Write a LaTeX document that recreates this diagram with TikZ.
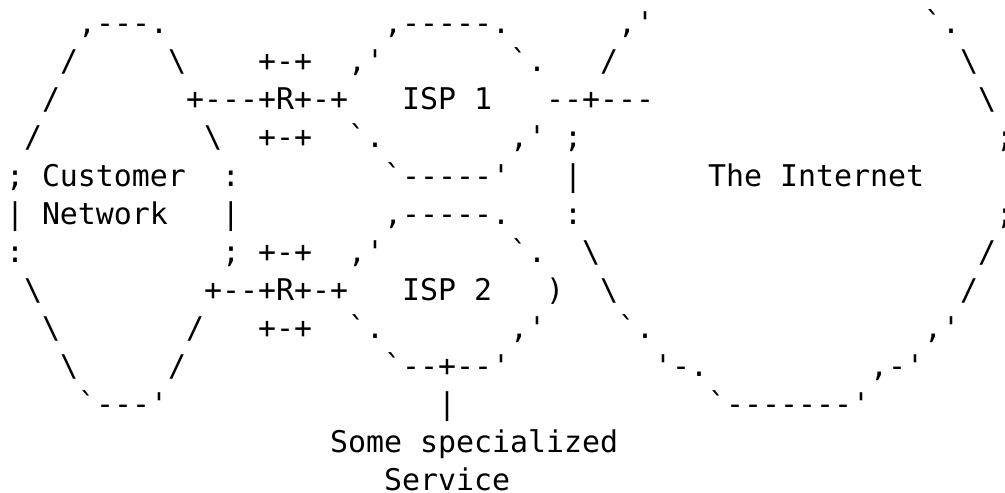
\documentclass[tikz,border=0pt]{standalone}
\usepackage{fontspec}
\setmonofont{DejaVu Sans Mono}
\frenchspacing
\tikzset{
  art/.style={anchor=base west,inner sep=0pt,outer sep=0pt,
    font=\ttfamily\fontsize{14.95}{19}\selectfont}
}
\newcommand{\bs}{\textbackslash}
\begin{document}
\begin{tikzpicture}[x=1pt,y=1pt]
    \useasboundingbox (0,0) rectangle (502.5,-246);

    \node[art] (row1)  at (3,-17)  {~~~~,---.~~~~~~~~~~~~,-----.~~~~~~,'~~~~~~~~~~~~~~~`.};
    \node[art] (row2)  at (3,-36)  {~~~/~~~~~\bs~~~~+-+~~,'~~~~~~~`.~~~/~~~~~~~~~~~~~~~~~~~\bs};
    \node[art] (row3)  at (3,-55)  {~~/~~~~~~~+---+R+-+~~~ISP~1~~~--+---~~~~~~~~~~~~~~~~~~\bs};
    \node[art] (row4)  at (3,-74)  {~/~~~~~~~~~\bs~~+-+~~`.~~~~~~~,'~;~~~~~~~~~~~~~~~~~~~~~~~;};
    \node[art] (row5)  at (3,-93)  {;~Customer~~:~~~~~~~~`-----'~~~|~~~~~~~The~Internet};
    \node[art] (row6)  at (3,-112) {|~Network~~~|~~~~~~~~,-----.~~~:~~~~~~~~~~~~~~~~~~~~~~~;};
    \node[art] (row7)  at (3,-131) {:~~~~~~~~~~~;~+-+~~,'~~~~~~~`.~~\bs~~~~~~~~~~~~~~~~~~~~~/};
    \node[art] (row8)  at (3,-150) {~\bs~~~~~~~~~+--+R+-+~~~ISP~2~~~)~~\bs~~~~~~~~~~~~~~~~~~~/};
    \node[art] (row9)  at (3,-169) {~~\bs~~~~~~~/~~~+-+~~`.~~~~~~~,'~~~~`.~~~~~~~~~~~~~~~,'};
    \node[art] (row10) at (3,-188) {~~~\bs~~~~~/~~~~~~~~~~~`--+--'~~~~~~~~'-.~~~~~~~~~,-'};
    \node[art] (row11) at (3,-207) {~~~~`---'~~~~~~~~~~~~~~~|~~~~~~~~~~~~~~`-------'};
    \node[art] (row12) at (3,-226) {~~~~~~~~~~~~~~~~~~Some~specialized};
    \node[art] (row13) at (3,-245) {~~~~~~~~~~~~~~~~~~~~~Service};
\end{tikzpicture}
\end{document}
